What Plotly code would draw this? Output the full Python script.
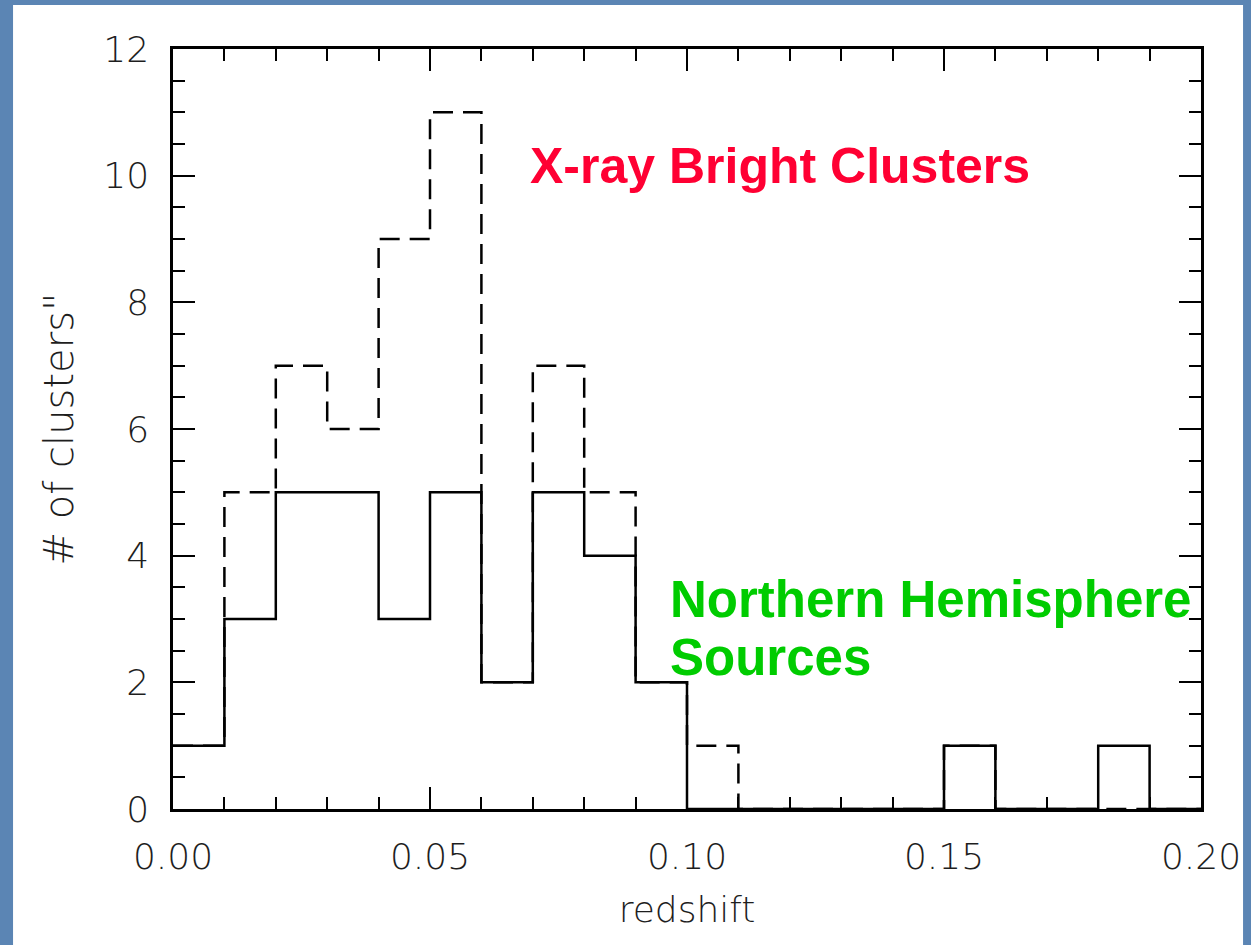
import plotly.graph_objects as go

# ---- data ----
bin_edges = [0.00, 0.01, 0.02, 0.03, 0.04, 0.05, 0.06, 0.07, 0.08, 0.09, 0.10,
             0.11, 0.12, 0.13, 0.14, 0.15, 0.16, 0.17, 0.18, 0.19, 0.20]
xray_bright_counts = [1, 5, 7, 6, 9, 11, 2, 7, 5, 2, 1, 0, 0, 0, 0, 1, 0, 0, 0, 0]
northern_counts = [1, 3, 5, 5, 3, 5, 2, 5, 4, 2, 0, 0, 0, 0, 0, 1, 0, 0, 1, 0]
x_tick_vals = [0.00, 0.05, 0.10, 0.15, 0.20]
y_tick_vals = [0, 2, 4, 6, 8, 10, 12]

label_xray = "X-ray Bright Clusters"
label_north_1 = "Northern Hemisphere"
label_north_2 = "Sources"

BLUE = "#5b85b4"
TXT = "#1e1e1e"
TICKFONT = dict(family="DejaVu Sans", size=36, color=TXT, weight=300)

fig = go.Figure()
fig.add_trace(go.Scatter(
    x=bin_edges, y=xray_bright_counts + [0], mode="lines", line_shape="hv",
    line=dict(color="black", width=2.5, dash="20px,10px"), showlegend=False))
fig.add_trace(go.Scatter(
    x=bin_edges, y=northern_counts + [0], mode="lines", line_shape="hv",
    line=dict(color="black", width=2.5), showlegend=False))

# white slide panel
fig.add_shape(type="rect", xref="paper", yref="paper",
              x0=-0.1556, x1=1.0409, y0=-0.25, y1=1.0579,
              fillcolor="white", line_width=0, layer="below")

fig.update_xaxes(
    range=[0, 0.2], tickvals=x_tick_vals, tickformat=".2f",
    ticks="inside", ticklen=22, tickwidth=2, tickcolor="black",
    minor=dict(dtick=0.01, ticks="inside", ticklen=12, tickwidth=2, tickcolor="black"),
    showline=True, linecolor="black", linewidth=2.5, mirror="ticks",
    showgrid=False, zeroline=False, tickfont=TICKFONT, ticklabelstandoff=14,
    title=dict(text="redshift", font=dict(family="DejaVu Sans", size=36, color=TXT, weight=300),
               standoff=21))
fig.update_yaxes(
    range=[0, 12], tickvals=y_tick_vals,
    ticks="inside", ticklen=22, tickwidth=2, tickcolor="black",
    minor=dict(dtick=0.5, ticks="inside", ticklen=12, tickwidth=2, tickcolor="black"),
    showline=True, linecolor="black", linewidth=2.5, mirror="ticks",
    showgrid=False, zeroline=False, tickfont=TICKFONT, ticklabelstandoff=14,
    title=dict(text='# of clusters"', font=dict(family="DejaVu Sans", size=40, color=TXT, weight=300),
               standoff=18))

fig.add_annotation(x=0.3453, y=0.8454, xref="paper", yref="paper", xanchor="left",
                   yanchor="middle", showarrow=False, text=label_xray,
                   font=dict(family="Liberation Sans", size=50, color="#ff0033", weight="bold"))
fig.add_annotation(x=0.4815, y=0.2757, xref="paper", yref="paper", xanchor="left",
                   yanchor="middle", showarrow=False, text=label_north_1,
                   font=dict(family="Liberation Sans", size=51, color="#00cc00", weight="bold"))
fig.add_annotation(x=0.4815, y=0.1993, xref="paper", yref="paper", xanchor="left",
                   yanchor="middle", showarrow=False, text=label_north_2,
                   font=dict(family="Liberation Sans", size=51, color="#00cc00", weight="bold"))

fig.update_layout(
    width=1251, height=945,
    margin=dict(l=173, r=50, t=49, b=136, autoexpand=False),
    paper_bgcolor=BLUE, plot_bgcolor="rgba(0,0,0,0)",
)
fig.write_html("out.html", config={"displayModeBar": False},
               post_script="document.body.style.margin='0';document.body.style.overflow='hidden';")
